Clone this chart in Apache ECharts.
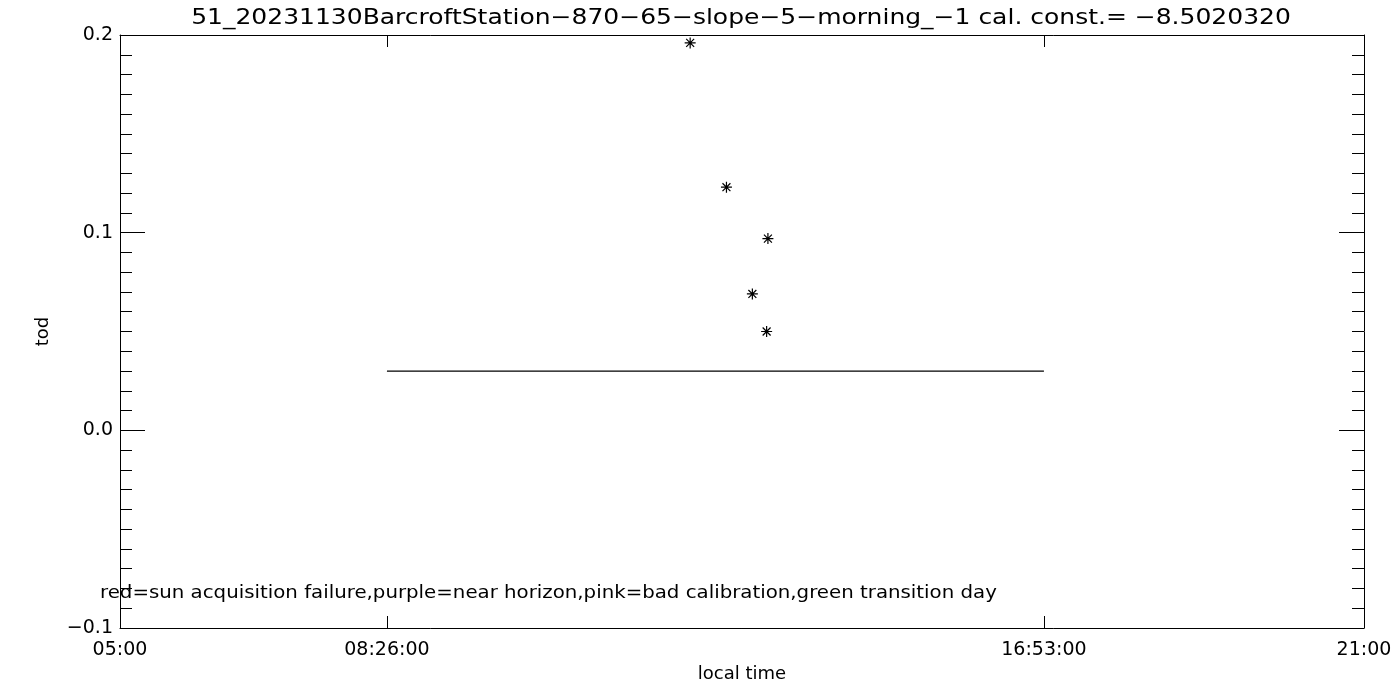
<!DOCTYPE html>
<html>
<head>
<meta charset="utf-8">
<script src="https://cdn.jsdelivr.net/npm/echarts@6/dist/echarts.min.js"></script>
<style>html,body{margin:0;padding:0;background:#fff}#c{width:1400px;height:700px}</style>
</head>
<body>
<div id="c"></div>
<script>
const titleText = '51_20231130BarcroftStation\u2212870\u221265\u2212slope\u22125\u2212morning_\u22121 cal. const.= \u22128.5020320';
const noteText = 'red=sun acquisition failure,purple=near horizon,pink=bad calibration,green transition day';
const xTickTimes = ['05:00', '08:26:00', '16:53:00', '21:00'];
const pointTimes = ['12:20', '12:48', '13:20', '13:08', '13:19'];
const pointTod = [0.196, 0.123, 0.097, 0.069, 0.050];
const lineTimes = ['08:26', '16:53'];
const lineTod = [0.030, 0.030];
const yMin = -0.1, yMax = 0.2, yStep = 0.1;

function toHours(s) {
  const p = s.split(':').map(Number);
  return p[0] + (p[1] || 0) / 60 + (p[2] || 0) / 3600;
}
const xTickVals = xTickTimes.map(toHours);
const xMin = xTickVals[0], xMax = xTickVals[xTickVals.length - 1];
const innerTicks = xTickVals.slice(1, -1);

const FONT = 'DejaVu Sans';
const ast = 'path://M0,-5L0,5M-5,0L5,0M-3.6,-3.6L3.6,3.6M-3.6,3.6L3.6,-3.6';

function xLabel(v) {
  let best = 0, bd = 1e9;
  xTickVals.forEach((t, i) => { const d = Math.abs(t - v); if (d < bd) { bd = d; best = i; } });
  return bd < 1e-3 ? xTickTimes[best] : '';
}
function yLabel(v) {
  return (Math.abs(v) < 1e-9 ? 0 : v).toFixed(1).replace('-', '\u2212');
}

const chart = echarts.init(document.getElementById('c'), null, {renderer: 'canvas'});
const lineBase = {lineStyle: {color: '#000', width: 1}};
chart.setOption({
  animation: false,
  backgroundColor: '#fff',
  grid: {left: 120, right: 36, top: 35, bottom: 72, containLabel: false},
  xAxis: [{
    type: 'value', min: xMin, max: xMax, position: 'bottom',
    name: 'local time', nameLocation: 'middle', nameGap: 36,
    nameTextStyle: {fontFamily: FONT, fontSize: 18, color: '#000'},
    axisLine: {show: true, onZero: false, ...lineBase},
    axisTick: {show: true, inside: true, length: 12, customValues: innerTicks, ...lineBase},
    axisLabel: {show: true, customValues: xTickVals, formatter: xLabel, margin: 13,
      fontFamily: FONT, fontSize: 19, color: '#000', showMinLabel: true, showMaxLabel: true},
    splitLine: {show: false}
  }, {
    type: 'value', min: xMin, max: xMax, position: 'top',
    axisLine: {show: true, onZero: false, ...lineBase},
    axisTick: {show: true, inside: true, length: 12, customValues: innerTicks, ...lineBase},
    axisLabel: {show: false},
    splitLine: {show: false}
  }],
  yAxis: [{
    type: 'value', min: yMin, max: yMax, interval: yStep, position: 'left',
    name: 'tod', nameLocation: 'middle', nameGap: 68, nameRotate: 90,
    nameTextStyle: {fontFamily: FONT, fontSize: 18, color: '#000'},
    axisLine: {show: true, onZero: false, ...lineBase},
    axisTick: {show: true, inside: true, length: 25, ...lineBase},
    minorTick: {show: true, splitNumber: 10, length: 12, lineStyle: {color: '#000', width: 1}},
    axisLabel: {formatter: yLabel, margin: 7, fontFamily: FONT, fontSize: 19, color: '#000'},
    splitLine: {show: false}, minorSplitLine: {show: false}
  }, {
    type: 'value', min: yMin, max: yMax, interval: yStep, position: 'right',
    axisLine: {show: true, onZero: false, ...lineBase},
    axisTick: {show: true, inside: true, length: 25, ...lineBase},
    minorTick: {show: true, splitNumber: 10, length: 12, lineStyle: {color: '#000', width: 1}},
    axisLabel: {show: false},
    splitLine: {show: false}, minorSplitLine: {show: false}
  }],
  graphic: [{
    type: 'text', x: 741, y: 19, scaleX: 1.19,
    style: {text: titleText, font: '21px "DejaVu Sans"', fill: '#000', textAlign: 'center', textVerticalAlign: 'middle'}
  }, {
    type: 'text', x: 100, y: 594, scaleX: 1.163,
    style: {text: noteText, font: '17px "DejaVu Sans"', fill: '#000', textAlign: 'left', textVerticalAlign: 'middle'}
  }],
  series: [{
    type: 'line', xAxisIndex: 0, yAxisIndex: 0,
    data: lineTimes.map((t, i) => [toHours(t), lineTod[i]]),
    showSymbol: false, symbol: 'none', lineStyle: {color: '#000', width: 1.2}, silent: true
  }, {
    type: 'scatter', xAxisIndex: 0, yAxisIndex: 0,
    data: pointTimes.map((t, i) => [toHours(t), pointTod[i]]),
    symbol: ast, symbolSize: 11,
    itemStyle: {color: 'none', borderColor: '#000', borderWidth: 1.2, opacity: 1}
  }]
});
</script>
</body>
</html>
